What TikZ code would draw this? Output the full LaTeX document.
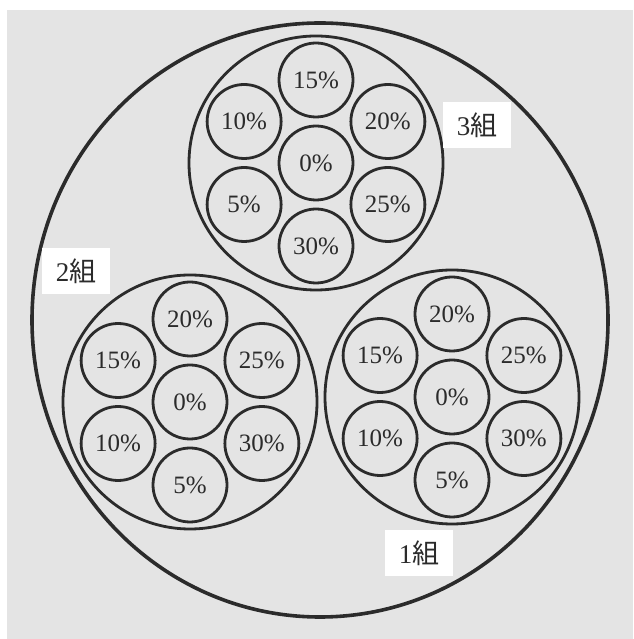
\documentclass[tikz,border=0pt]{standalone}
\usepackage{fontspec}
\setmainfont{Liberation Serif}
\newfontfamily\cjk{Noto Sans CJK JP}
\definecolor{scanpaper}{HTML}{E4E4E4}
\definecolor{scanink}{HTML}{2B2B2B}

\begin{document}
\begin{tikzpicture}[
  x=1pt,
  y=1pt,
  every node/.style={font=\fontsize{25}{28}\selectfont, scanink},
  rim/.style={scanink, line width=3.6pt},
  grp/.style={circle, draw=scanink, line width=2.8pt, minimum size=254pt, inner sep=0pt},
  cell/.style={circle, draw=scanink, line width=2.8pt, minimum size=74pt, inner sep=0pt},
  tag/.style={fill=white, minimum width=68pt, minimum height=46pt, inner sep=0pt,
              font=\fontsize{27}{30}\selectfont}
]
  % ---- page and paper ----
  \useasboundingbox (0,0) rectangle (633,639);
  \fill[scanpaper] (7,0) rectangle (633,629);

  % ---- outer ring ----
  \draw[rim] (320,319) ellipse [x radius=288, y radius=297];

  % ---- the three groups, each a ring of six cells round a 0% cell ----
  \foreach \g/\cx/\cy/\a/\b/\c/\d/\e/\f in {three/316/476/15/20/25/30/5/10,
                                            two/190/237/20/25/30/5/10/15,
                                            one/452/242/20/25/30/5/10/15} {
    \node[grp] (\g) at (\cx,\cy) {};
    \node[cell] (\g-0) at (\g.center) {0\%};
    \foreach \ang/\lab in {90/\a, 30/\b, -30/\c, -90/\d, -150/\e, 150/\f}
      \node[cell] (\g-\lab) at ([shift={(\ang:83)}]\g.center) {\lab\%};
  }

  % ---- group labels ----
  \node[tag] (tag3) at (477,514) {3{\cjk 組}};
  \node[tag] (tag2) at (76,368)  {2{\cjk 組}};
  \node[tag] (tag1) at (419,86)  {1{\cjk 組}};
\end{tikzpicture}
\end{document}
